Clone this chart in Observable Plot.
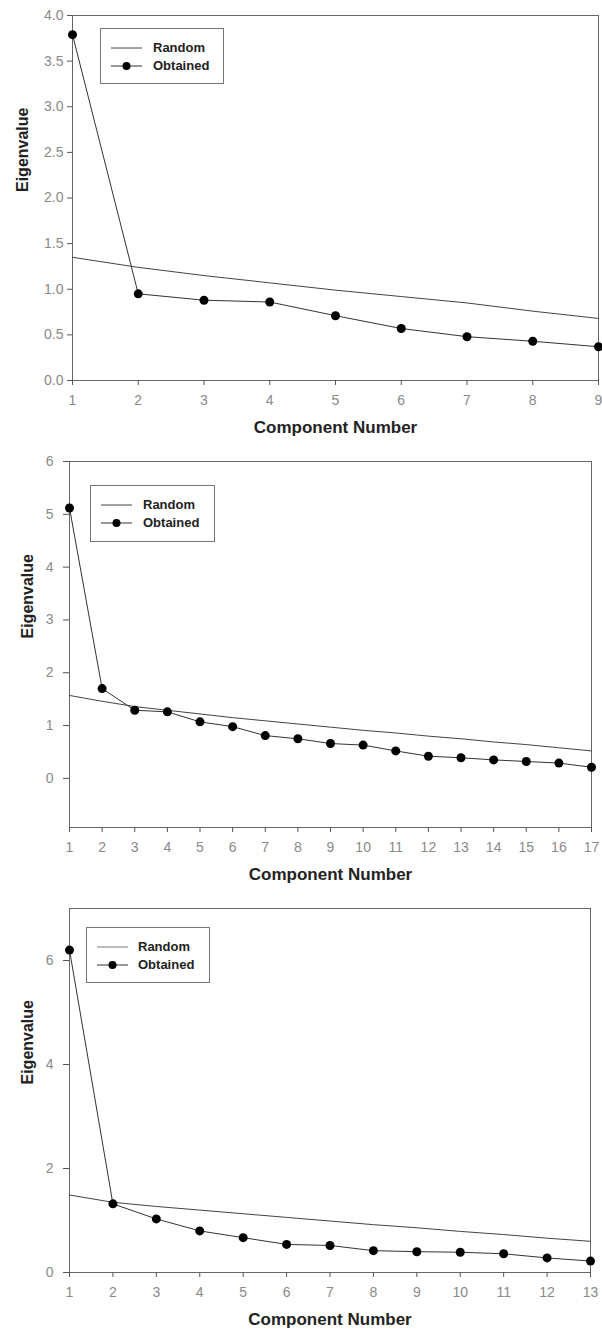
<!DOCTYPE html>
<html>
<head>
<meta charset="utf-8">
<script src="https://cdn.jsdelivr.net/npm/d3@7"></script>
<script src="https://cdn.jsdelivr.net/npm/@observablehq/plot@0.6"></script>
<style>
  html, body { margin: 0; padding: 0; background: #fff; }
  body { width: 602px; font-family: "Liberation Sans", Arial, sans-serif; }
  .panel { position: relative; width: 602px; }
  .panel svg { display: block; }
  .legend { position: absolute; box-sizing: border-box; border: 1px solid #777; background: #fff; }
  .legend .row { position: absolute; left: 0; height: 18px; width: 100%; }
  .legend .row svg { position: absolute; left: 10px; top: 0; }
  .legend .row span { position: absolute; top: 0; line-height: 18px; font-weight: bold; font-size: 13px; color: #222; white-space: nowrap; }
</style>
</head>
<body>
<div id="chart"></div>
<script>
// ---- Data ----
const components1 = [1, 2, 3, 4, 5, 6, 7, 8, 9];
const random1   = [1.35, 1.24, 1.15, 1.07, 0.99, 0.92, 0.85, 0.76, 0.68];
const obtained1 = [3.79, 0.95, 0.88, 0.86, 0.71, 0.57, 0.48, 0.43, 0.37];
const yTicks1   = [0, 0.5, 1, 1.5, 2, 2.5, 3, 3.5, 4];

const components2 = [1, 2, 3, 4, 5, 6, 7, 8, 9, 10, 11, 12, 13, 14, 15, 16, 17];
const random2   = [1.57, 1.46, 1.36, 1.29, 1.22, 1.15, 1.09, 1.03, 0.97, 0.91, 0.86, 0.80, 0.75, 0.69, 0.64, 0.58, 0.52];
const obtained2 = [5.12, 1.70, 1.29, 1.26, 1.07, 0.98, 0.81, 0.75, 0.66, 0.63, 0.52, 0.42, 0.39, 0.35, 0.32, 0.29, 0.21];
const yTicks2   = [0, 1, 2, 3, 4, 5, 6];

const components3 = [1, 2, 3, 4, 5, 6, 7, 8, 9, 10, 11, 12, 13];
const random3   = [1.49, 1.35, 1.27, 1.20, 1.13, 1.06, 0.99, 0.92, 0.86, 0.79, 0.73, 0.66, 0.60];
const obtained3 = [6.20, 1.32, 1.03, 0.80, 0.67, 0.54, 0.52, 0.42, 0.40, 0.39, 0.36, 0.28, 0.22];
const yTicks3   = [0, 2, 4, 6];

const seriesNames = ["Random", "Obtained"];
const xLabel = "Component Number";
const yLabel = "Eigenvalue";

// ---- Layout ----
const panels = [
  {comps: components1, random: random1, obtained: obtained1, yTicks: yTicks1, yDomain: [0, 4],
   fmt: d => d.toFixed(1), height: 445, mt: 15, mb: 65, ml: 72, mr: 4, ytSize: 5, ytPad: 4, ylabDx: -50,
   legend: {left: 100, top: 28, width: 124, height: 56, lineLeft: 10, textLeft: 52}, randomSwatch: {stroke: "#444", width: 1}},
  {comps: components2, random: random2, obtained: obtained2, yTicks: yTicks2, yDomain: [-0.93, 6],
   fmt: d => String(d), height: 445, mt: 16, mb: 63, ml: 69, mr: 11, ytSize: 6, ytPad: 10, ylabDx: -42,
   legend: {left: 90, top: 40, width: 125, height: 57, lineLeft: 10, textLeft: 52}, randomSwatch: {stroke: "#444", width: 1}},
  {comps: components3, random: random3, obtained: obtained3, yTicks: yTicks3, yDomain: [0, 7],
   fmt: d => String(d), height: 447, mt: 18, mb: 65, ml: 69, mr: 12, ytSize: 6, ytPad: 10, ylabDx: -42,
   legend: {left: 86, top: 37, width: 124, height: 56, lineLeft: 10, textLeft: 51}, randomSwatch: {stroke: "#bbb", width: 2}}
];

const FONT = '"Liberation Sans", Arial, sans-serif';
const chart = document.getElementById("chart");

for (const p of panels) {
  const rows = p.comps.map((c, i) => ({c, random: p.random[i], obtained: p.obtained[i]}));
  const svg = Plot.plot({
    width: 602,
    height: p.height,
    marginTop: p.mt,
    marginBottom: p.mb,
    marginLeft: p.ml,
    marginRight: p.mr,
    style: {fontFamily: FONT, fontSize: "14px", background: "#fff", overflow: "visible"},
    x: {domain: [p.comps[0], p.comps[p.comps.length - 1]]},
    y: {domain: p.yDomain},
    marks: [
      Plot.frame({stroke: "#666", strokeWidth: 1}),
      Plot.axisX({ticks: p.comps, tickFormat: d => String(d), tickSize: 5, tickPadding: 10,
                  stroke: "#555", fill: "#8a8a8a", fontSize: 14, label: null}),
      Plot.axisY({ticks: p.yTicks, tickFormat: p.fmt, tickSize: p.ytSize, tickPadding: p.ytPad,
                  stroke: "#555", fill: "#8a8a8a", fontSize: 14, label: null}),
      Plot.line(rows, {x: "c", y: "random", stroke: "#444", strokeWidth: 1}),
      Plot.line(rows, {x: "c", y: "obtained", stroke: "#333", strokeWidth: 1}),
      Plot.dot(rows, {x: "c", y: "obtained", r: 4.5, fill: "#000", stroke: "none"}),
      Plot.text([xLabel], {frameAnchor: "bottom", dy: 52, fontSize: 17, fontWeight: "bold", fill: "#222"}),
      Plot.text([yLabel], {frameAnchor: "left", dx: p.ylabDx, dy: -6, rotate: -90, fontSize: 16, fontWeight: "bold", fill: "#222"})
    ]
  });

  const div = document.createElement("div");
  div.className = "panel";
  div.style.height = p.height + "px";
  div.appendChild(svg);

  // legend overlay inside the plot frame
  const L = p.legend;
  const lg = document.createElement("div");
  lg.className = "legend";
  lg.style.left = L.left + "px";
  lg.style.top = L.top + "px";
  lg.style.width = L.width + "px";
  lg.style.height = L.height + "px";
  seriesNames.forEach((name, i) => {
    const row = document.createElement("div");
    row.className = "row";
    row.style.top = (10 + i * 18) + "px";
    const isObt = name === "Obtained";
    const sw = isObt ? {stroke: "#333", width: 1} : p.randomSwatch;
    row.innerHTML =
      `<svg width="34" height="18" style="left:${L.lineLeft}px"><line x1="0" x2="31" y1="9" y2="9" stroke="${sw.stroke}" stroke-width="${sw.width}"/>` +
      (isObt ? `<circle cx="15.5" cy="9" r="4" fill="#000"/>` : "") +
      `</svg><span style="left:${L.textLeft}px">${name}</span>`;
    lg.appendChild(row);
  });
  div.appendChild(lg);
  chart.appendChild(div);
}
</script>
</body>
</html>
